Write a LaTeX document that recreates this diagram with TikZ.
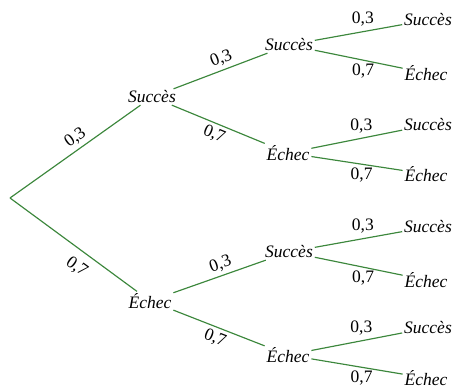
\documentclass[tikz,border=0pt]{standalone}
\usepackage{fontspec}
\setmainfont{Liberation Serif}
\usetikzlibrary{positioning}
\definecolor{treegreen}{RGB}{60,135,60}

\begin{document}
\begin{tikzpicture}[
    x=0.6pt, y=-0.6pt,
    outcome/.style={font=\fontsize{10.5}{12}\selectfont\itshape, inner sep=1pt},
    branch/.style={draw=treegreen, line width=0.7pt},
    prob/.style={font=\fontsize{10.5}{12}\selectfont, inner sep=2pt}
]
\useasboundingbox (0,0) rectangle (453,387);

% Root of the tree
\coordinate (root) at (10,198);

% First draw
\node (s_node) at (152,97) [outcome] {Succès};
\node (e_node) at (150,301) [outcome] {Échec};

% Second draw
\node (ss_node) at (289,45) [outcome] {Succès};
\node (se_node) at (288,153) [outcome] {Échec};
\node (es_node) at (289,252) [outcome] {Succès};
\node (ee_node) at (288,355) [outcome] {Échec};

% Third draw
\node (sss_node) at (428,20) [outcome] {Succès};
\node (sse_node) at (426,73) [outcome] {Échec};
\node (ses_node) at (428,125) [outcome] {Succès};
\node (see_node) at (426,174) [outcome] {Échec};
\node (ess_node) at (428,227) [outcome] {Succès};
\node (ese_node) at (426,280) [outcome] {Échec};
\node (ees_node) at (428,328) [outcome] {Succès};
\node (eee_node) at (426,378) [outcome] {Échec};

% Branches
\draw [branch] (root) -- node[prob, sloped, above, pos=0.55] {0,3} (s_node);
\draw [branch] (root) -- node[prob, sloped, below=3pt, pos=0.6] {0,7} (e_node);

\draw [branch] (s_node) -- node[prob, sloped, above, pos=0.55] {0,3} (ss_node);
\draw [branch] (s_node) -- node[prob, sloped, below, pos=0.5] {0,7} (se_node);
\draw [branch] (e_node) -- node[prob, sloped, above, pos=0.55] {0,3} (es_node);
\draw [branch] (e_node) -- node[prob, sloped, below, pos=0.5] {0,7} (ee_node);

\draw [branch] (ss_node) -- node[prob, above=1pt, pos=0.55] {0,3} (sss_node);
\draw [branch] (ss_node) -- node[prob, below, pos=0.55] {0,7} (sse_node);
\draw [branch] (se_node) -- node[prob, above=1pt, pos=0.55] {0,3} (ses_node);
\draw [branch] (se_node) -- node[prob, below, pos=0.55] {0,7} (see_node);
\draw [branch] (es_node) -- node[prob, above=1pt, pos=0.55] {0,3} (ess_node);
\draw [branch] (es_node) -- node[prob, below, pos=0.55] {0,7} (ese_node);
\draw [branch] (ee_node) -- node[prob, above=1pt, pos=0.55] {0,3} (ees_node);
\draw [branch] (ee_node) -- node[prob, below, pos=0.55] {0,7} (eee_node);

\end{tikzpicture}
\end{document}
